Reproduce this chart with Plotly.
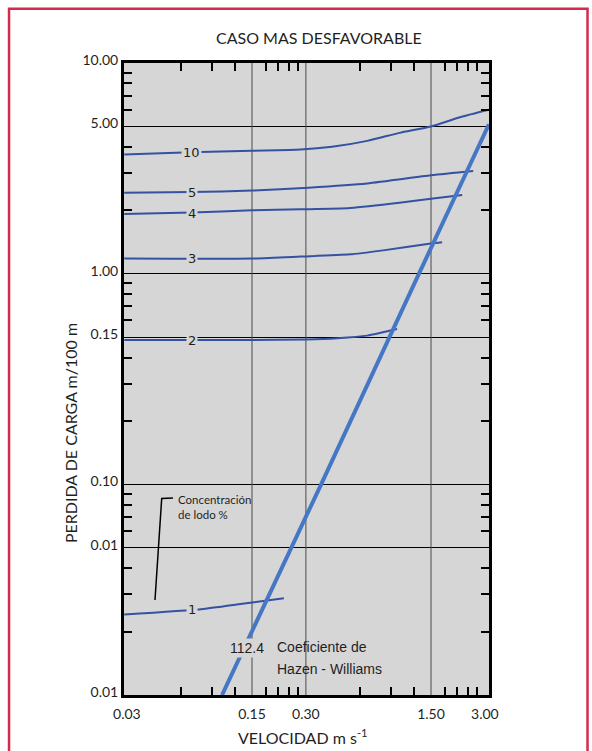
import math
import plotly.graph_objects as go

# Velocity (m/s) and head loss (m/100 m) for each sludge concentration (%)
vel_1 = [0.029, 0.08, 0.15, 0.226]
loss_1 = [0.0241, 0.0256, 0.0275, 0.0288]

vel_2 = [0.029, 0.15, 0.3, 0.45, 0.66, 0.97]
loss_2 = [0.484, 0.484, 0.487, 0.494, 0.508, 0.546]

vel_3 = [0.029, 0.15, 0.28, 0.53, 0.81, 1.5, 1.73]
loss_3 = [1.18, 1.18, 1.205, 1.235, 1.29, 1.39, 1.41]

vel_4 = [0.029, 0.069, 0.15, 0.28, 0.53, 1.0, 1.5, 2.24]
loss_4 = [1.92, 1.95, 2.0, 2.02, 2.05, 2.17, 2.27, 2.36]

vel_5 = [0.029, 0.069, 0.15, 0.31, 0.66, 1.5, 2.58]
loss_5 = [2.42, 2.44, 2.48, 2.56, 2.68, 2.93, 3.07]

vel_10 = [0.029, 0.068, 0.15, 0.28, 0.42, 0.66, 1.0, 1.5, 2.2, 3.16]
loss_10 = [3.68, 3.77, 3.83, 3.88, 4.0, 4.27, 4.66, 5.0, 5.54, 6.0]

# Clean-water line, Hazen-Williams C = 112.4
hw_vel = [0.102, 0.365, 1.285, 3.16]
hw_loss = [0.01, 0.1, 1.0, 5.12]

# Curve labels (concentration %) and where they sit on each curve
conc_labels = ["1", "2", "3", "4", "5", "10"]
label_vel = 0.069
label_loss = [0.0255, 0.484, 1.18, 1.94, 2.44, 3.77]

# Axis ticks
x_tickvals = [0.03, 0.15, 0.3, 1.5, 3.0]
x_ticktext = ["0.03", "0.15", "0.30", "1.50", "3.00"]
x_gridvals = [0.15, 0.3, 1.5]
x_minor = [0.06, 0.09, 0.12, 0.18, 0.21, 0.24, 0.27, 0.6, 0.9, 1.2, 1.8, 2.1, 2.4, 2.7]

y_tickvals = [10, 5, 1, 0.5, 0.1, 0.05, 0.01]
y_ticktext = ["10.00", "5.00", "1.00", "0.15", "0.10", "0.01", "0.01"]
y_minor = [9, 8, 7, 6, 4, 3, 2, 0.9, 0.8, 0.7, 0.6, 0.4, 0.3, 0.2,
           0.09, 0.08, 0.07, 0.06, 0.04, 0.03, 0.02]

PLOT_BG = "#d6d6d6"
CURVE = "#3452a3"
HW = "#4677c4"
TXT = "#1f1f1f"
SANS = "Lato"

fig = go.Figure()

# vertical grid lines
gx, gy = [], []
for v in x_gridvals:
    gx += [v, v, None]
    gy += [0.01, 10, None]
fig.add_trace(go.Scatter(x=gx, y=gy, mode="lines", hoverinfo="skip",
                         line=dict(color="#4a4a4a", width=1), showlegend=False))

for vx, ly in [(vel_1, loss_1), (vel_2, loss_2), (vel_3, loss_3),
               (vel_4, loss_4), (vel_5, loss_5), (vel_10, loss_10)]:
    fig.add_trace(go.Scatter(x=vx, y=ly, mode="lines", showlegend=False,
                             line=dict(color=CURVE, width=2, shape="spline", smoothing=0.6)))

fig.add_trace(go.Scatter(x=hw_vel, y=hw_loss, mode="lines", showlegend=False,
                         line=dict(color=HW, width=4)))

annotations = []
for lab, ly in zip(conc_labels, label_loss):
    annotations.append(dict(
        x=math.log10(label_vel), y=math.log10(ly), xref="x", yref="y",
        text=lab, showarrow=False, bgcolor=PLOT_BG, borderpad=1,
        font=dict(family="DejaVu Sans", size=13, color=TXT)))


def note(x, y, text, size, family=SANS, **kw):
    d = dict(x=x, y=y, xref="paper", yref="paper", text=text, showarrow=False,
             xanchor="center", yanchor="middle",
             font=dict(family=family, size=size, color=TXT))
    d.update(kw)
    return d


annotations += [
    note(0.533, 1.040, "CASO MAS DESFAVORABLE", 16),
    note(-0.148, 0.4144, "PERDIDA DE CARGA m/100 m", 16, textangle=-90),
    note(0.490, -0.066, "VELOCIDAD m s<sup>-1</sup>", 16),
    note(0.3378, 0.0743, "112.4", 14, family="Liberation Sans",
         bgcolor=PLOT_BG, borderpad=1),
    note(0.4137, 0.0754, "Coeficiente de", 14, family="Liberation Sans", xanchor="left"),
    note(0.4137, 0.0411, "Hazen - Williams", 14, family="Liberation Sans", xanchor="left"),
    note(0.1416, 0.297, "Concentración<br>de lodo %", 11.5, xanchor="left", align="left"),
]

shapes = [
    # leader from the concentration note down to curve 1
    dict(type="path", xref="paper", yref="paper",
         path="M 0.1342 0.3116 L 0.1033 0.3111 L 0.0849 0.1502",
         line=dict(color="black", width=1.5)),
    # page frame
    dict(type="rect", xref="paper", yref="paper", x0=-0.315, x1=1.2699, y0=-0.2, y1=1.0857,
         line=dict(color="#d42a4c", width=2.5), layer="below"),
]

axis_common = dict(
    type="log", showline=True, linecolor="black", linewidth=3, mirror="allticks",
    ticks="", zeroline=False,
    tickfont=dict(family=SANS, size=14, color=TXT),
)

fig.update_layout(
    width=592, height=751,
    margin=dict(l=124, r=103, t=63, b=56),
    paper_bgcolor="white", plot_bgcolor=PLOT_BG,
    showlegend=False,
    annotations=annotations, shapes=shapes,
    xaxis=dict(**axis_common, range=[-1.539, 0.5], showgrid=False,
               tickmode="array", tickvals=x_tickvals, ticktext=x_ticktext,
               ticklabelstandoff=4,
               minor=dict(tickmode="array", tickvals=x_minor, ticks="inside",
                          ticklen=8, tickwidth=2, tickcolor="black", showgrid=False)),
    yaxis=dict(**axis_common, range=[-2, 1], showgrid=True, gridcolor="black", gridwidth=1,
               tickmode="array", tickvals=y_tickvals, ticktext=y_ticktext,
               ticklabelshift=-3,
               minor=dict(tickmode="array", tickvals=y_minor, ticks="inside",
                          ticklen=8, tickwidth=2, tickcolor="black", showgrid=False)),
)

fig.write_html("out.html")
